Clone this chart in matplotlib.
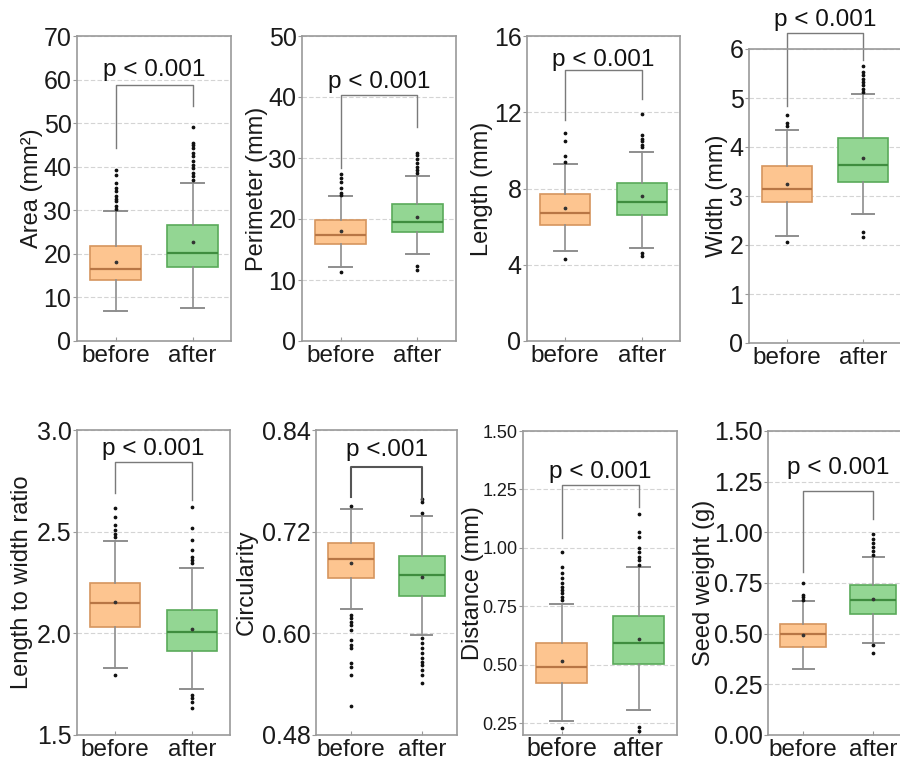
import numpy as np
import matplotlib.pyplot as plt

plt.rcParams['font.family'] = ['Liberation Sans', 'DejaVu Sans']

# rótulos dos painéis
ylabels = ['Area (mm²)', 'Perimeter (mm)', 'Length (mm)', 'Width (mm)',
           'Length to width ratio', 'Circularity', 'Distance (mm)', 'Seed weight (g)']
groups = ['before', 'after']
p_texts = ['p < 0.001', 'p < 0.001', 'p < 0.001', 'p < 0.001',
           'p < 0.001', 'p <.001', 'p < 0.001', 'p < 0.001']

# estatísticas das caixas
before_q1 = [14.1, 15.9, 6.1, 2.87, 2.033, 0.6657, 0.424, 0.434]
before_med = [16.6, 17.4, 6.7, 3.15, 2.148, 0.6873, 0.492, 0.500]
before_q3 = [21.8, 19.9, 7.7, 3.61, 2.249, 0.7062, 0.595, 0.549]
before_mean = [18.2, 18.1, 7.0, 3.25, 2.152, 0.6834, 0.518, 0.495]
before_lo = [6.9, 12.2, 4.7, 2.18, 1.831, 0.6283, 0.260, 0.328]
before_hi = [29.9, 23.7, 9.3, 4.35, 2.454, 0.7464, 0.760, 0.659]
before_fliers = [
    [30.2, 30.9, 32.1, 32.6, 33.2, 34.4, 35.1, 36.3, 38.2, 39.3],
    [11.3, 24.0, 24.3, 25.1, 26.0, 26.8, 27.4],
    [4.3, 9.4, 9.7, 10.5, 10.9],
    [2.07, 4.43, 4.50, 4.65],
    [1.795, 2.475, 2.49, 2.508, 2.533, 2.574, 2.615],
    [0.6216, 0.6177, 0.6138, 0.6098, 0.604, 0.5921, 0.5862, 0.5823,
     0.5646, 0.5607, 0.5508, 0.5142, 0.7503],
    [0.231, 0.777, 0.792, 0.806, 0.82, 0.834, 0.852, 0.87, 0.891, 0.92, 0.984],
    [0.667, 0.680, 0.693, 0.749],
]

after_q1 = [17.0, 17.9, 6.6, 3.28, 1.915, 0.6445, 0.502, 0.598]
after_med = [20.2, 19.5, 7.3, 3.63, 2.008, 0.6689, 0.592, 0.667]
after_q3 = [26.7, 22.5, 8.3, 4.19, 2.115, 0.6917, 0.710, 0.738]
after_mean = [22.7, 20.3, 7.6, 3.77, 2.020, 0.6661, 0.609, 0.672]
after_lo = [7.5, 14.2, 4.9, 2.63, 1.725, 0.598, 0.307, 0.454]
after_hi = [36.3, 27.1, 9.9, 5.08, 2.323, 0.7389, 0.917, 0.877]
after_fliers = [
    [37.0, 37.8, 38.5, 39.7, 40.5, 41.2, 42.4, 43.1, 44.3, 45.0, 45.4, 49.2],
    [12.3, 11.6, 27.5, 28.1, 28.6, 29.2, 29.8, 30.5, 30.8],
    [4.6, 4.45, 10.2, 10.3, 10.5, 10.6, 10.8, 11.9],
    [2.27, 2.17, 5.12, 5.19, 5.26, 5.32, 5.39, 5.47, 5.53, 5.65],
    [1.697, 1.68, 1.664, 1.631, 2.344, 2.36, 2.377, 2.41, 2.459, 2.516, 2.623],
    [0.5941, 0.5882, 0.5823, 0.5764, 0.5705, 0.5666, 0.5626, 0.5567,
     0.5508, 0.541, 0.7416, 0.7554, 0.7582],
    [0.236, 0.219, 0.927, 0.948, 0.963, 0.984, 0.998, 1.048, 1.067, 1.144],
    [0.443, 0.407, 0.89, 0.907, 0.926, 0.946, 0.967, 0.992],
]

# colchete de significância: topo, perna esquerda, perna direita, linha de base do texto
bracket_top = [58.8, 40.3, 14.2, 6.33, 2.844, 0.7963, 1.269, 1.205]
bracket_left = [44.3, 28.4, 11.6, 4.83, 2.692, 0.7609, 1.041, 0.803]
bracket_right = [54.0, 35.1, 12.7, 5.78, 2.656, 0.757, 1.176, 1.066]
p_text_y = [60.8, 41.4, 14.45, 6.47, 2.877, 0.8093, 1.2976, 1.29]

# eixos
ylims = [(0, 70), (0, 50), (0, 16), (0, 6), (1.5, 3.0), (0.48, 0.84), (0.2, 1.5), (0, 1.5)]
yticks = [np.arange(0, 71, 10), np.arange(0, 51, 10), np.arange(0, 17, 4), np.arange(0, 7, 1),
          [1.5, 2.0, 2.5, 3.0], [0.48, 0.60, 0.72, 0.84],
          [0.25, 0.50, 0.75, 1.00, 1.25, 1.50], [0.0, 0.25, 0.5, 0.75, 1.0, 1.25, 1.5]]
yfmt = ['%d', '%d', '%d', '%d', '%.1f', '%.2f', '%.2f', '%.2f']

# posição de cada painel em pixels (esq, dir, topo, base)
W, H = 900, 761
boxes_px = [(77, 231, 36, 341), (302, 456, 36, 341), (527, 680, 36, 341), (749, 901, 49, 343),
            (77, 230, 430, 735), (316, 457, 430, 735), (523, 677, 431, 735), (768, 908, 431, 735)]
label_x = [-0.22, -0.22, -0.22, -0.14, -0.29, -0.41, -0.25, -0.38]
ytick_size = [18, 18, 18, 18, 18, 18, 13, 18]
xtick_size = [17.5, 17.5, 17.5, 17.5, 17.5, 17.5, 18, 17.5]
xtick_pad = [3, 3, 3, 3, 3, 3, 1.5, 3]

fill = ['#fdc590', '#93d693']
edge = ['#d6955e', '#5aaa5a']
medc = ['#b87645', '#3f8d3f']

fig = plt.figure(figsize=(9, 7.61), dpi=100)

for i in range(8):
    l, r, t, b = boxes_px[i]
    ax = fig.add_axes([l / W, (H - b) / H, (r - l) / W, (b - t) / H])

    stats = [
        dict(label=groups[0], q1=before_q1[i], med=before_med[i], q3=before_q3[i],
             mean=before_mean[i], whislo=before_lo[i], whishi=before_hi[i],
             fliers=np.array(before_fliers[i])),
        dict(label=groups[1], q1=after_q1[i], med=after_med[i], q3=after_q3[i],
             mean=after_mean[i], whislo=after_lo[i], whishi=after_hi[i],
             fliers=np.array(after_fliers[i])),
    ]
    bp = ax.bxp(stats, positions=[1, 2], widths=0.65, capwidths=0.3,
                showmeans=True, patch_artist=True,
                whiskerprops=dict(color='#8e8e8e', lw=1.2),
                capprops=dict(color='#8e8e8e', lw=1.4),
                flierprops=dict(marker='o', markersize=1.7, markerfacecolor='#111',
                                markeredgecolor='#111', linestyle='none'),
                meanprops=dict(marker='o', markersize=1.7, markerfacecolor='#333',
                               markeredgecolor='#333'))
    for k in range(2):
        bp['boxes'][k].set_facecolor(fill[k])
        bp['boxes'][k].set_edgecolor(edge[k])
        bp['boxes'][k].set_linewidth(1.2)
        bp['medians'][k].set_color(medc[k])
        bp['medians'][k].set_linewidth(1.6)

    # colchete e valor p
    lw_b = 1.5 if i == 5 else 1.0
    col_b = '#555555' if i == 5 else '#7a7a7a'
    ax.plot([1, 1, 2, 2], [bracket_left[i], bracket_top[i], bracket_top[i], bracket_right[i]],
            color=col_b, lw=lw_b, clip_on=False)
    ax.text(1.5, p_text_y[i], p_texts[i], ha='center', va='baseline',
            fontsize=17.5, color='#111', clip_on=False)

    ax.set_xlim(0.5, 2.5)
    ax.set_ylim(*ylims[i])
    ax.set_yticks(yticks[i])
    ax.set_yticklabels([yfmt[i] % v for v in yticks[i]])
    ax.set_xticks([1, 2])
    ax.set_xticklabels(groups)

    ax.yaxis.grid(True, linestyle=(0, (4, 2)), color='#d4d4d4', lw=0.8)
    ax.set_axisbelow(True)
    for s in ax.spines.values():
        s.set_color('#9a9a9a')
        s.set_linewidth(1.2)
    ax.tick_params(axis='y', direction='out', length=3, color='#9a9a9a',
                   labelsize=ytick_size[i], pad=1, labelcolor='#1a1a1a')
    ax.tick_params(axis='x', direction='in', length=3, color='#9a9a9a',
                   labelsize=xtick_size[i], pad=xtick_pad[i], labelcolor='#1a1a1a')

    ax.set_ylabel(ylabels[i], fontsize=17, color='#1a1a1a')
    ax.yaxis.set_label_coords(label_x[i], 0.5)

fig.savefig('out.png', dpi=100)
